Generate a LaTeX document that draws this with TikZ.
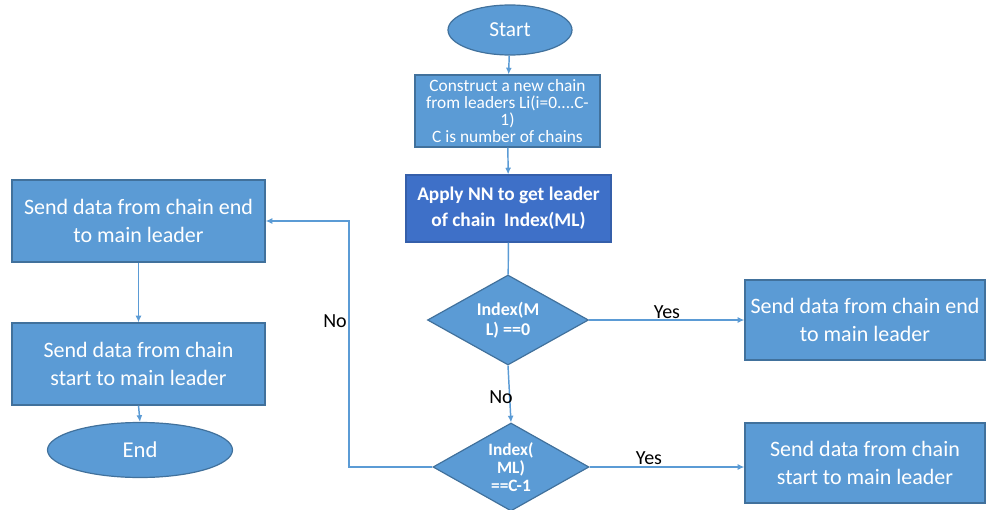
\documentclass[tikz,border=0pt]{standalone}
\usepackage{fontspec}
\setmainfont{Carlito}
\usetikzlibrary{shapes.geometric,arrows.meta}
\definecolor{boxfill}{RGB}{91,155,213}
\definecolor{boxline}{RGB}{65,113,156}
\definecolor{darkfill}{RGB}{62,112,200}
\definecolor{flow}{RGB}{91,155,213}
\tikzset{
  base/.style={draw=boxline, line width=0.9pt, fill=boxfill, text=white, align=center, inner sep=0pt},
  procbox/.style={base, rectangle},
  bigtext/.style={font=\fontsize{16.5}{21}\selectfont},
  termbox/.style={base, ellipse},
  decbox/.style={base, diamond, shape aspect=2},
  arr/.style={draw=flow, line width=1.1pt, -{Latex[length=5pt,width=4.5pt]}},
  ln/.style={draw=flow, line width=1.1pt},
  lbl/.style={text=black, font=\fontsize{15}{18}\selectfont, inner sep=0pt}
}
\begin{document}
\begin{tikzpicture}[x=0.75pt,y=-0.75pt]
\useasboundingbox (0,0) rectangle (986,510);

% main column
\node[termbox, minimum width=93pt, minimum height=37.5pt, font=\fontsize{16}{19}\selectfont] (start) at (510,30) {Start};
\node[procbox, minimum width=138.75pt, minimum height=54pt, font=\fontsize{13}{12.8}\selectfont] (b1) at (507.5,111)
  {Construct a new chain\\from leaders Li(i=0....C-\\1)\\C is number of chains};
\node[procbox, fill=darkfill, draw=darkfill!85!black, minimum width=153.75pt, minimum height=50.25pt, font=\fontsize{14.5}{19.5}\selectfont\bfseries] (b2) at (508.5,208.5)
  {Apply NN to get leader\\of chain\ \ Index(ML)};
\node[decbox, minimum width=120.75pt, minimum height=67.5pt, font=\fontsize{13.5}{15}\selectfont\bfseries] (d1) at (508,320)
  {Index(M\\L) ==0};
\node[decbox, minimum width=117pt, minimum height=66pt, font=\fontsize{13}{13.5}\selectfont\bfseries] (d2) at (511,467) {Index(\\ML)\\==C-1};

% right-hand results
\node[procbox, bigtext, minimum width=180pt, minimum height=60pt] (r1) at (865,320)
  {Send data from chain end\\to main leader};
\node[procbox, bigtext, minimum width=180pt, minimum height=60pt] (r2) at (865,463)
  {Send data from chain\\start to main leader};

% left-hand column
\node[procbox, bigtext, minimum width=189.75pt, minimum height=61.5pt] (l1) at (138.5,221)
  {Send data from chain end\\to main leader};
\node[procbox, bigtext, minimum width=189.75pt, minimum height=61.5pt] (l2) at (138.5,364)
  {Send data from chain\\start to main leader};
\node[termbox, minimum width=138.75pt, minimum height=41.25pt, font=\fontsize{17}{20}\selectfont] (end) at (140,450) {End};

% connectors
\draw[arr] (start) -- (b1);
\draw[arr] (b1) -- (b2);
\draw[ln] (b2) -- (d1);
\draw[arr] (d1.east) -- (r1.west);
\draw[arr] (d1.south) -- (d2.north);
\draw[arr] (d2.east) -- (d2.east -| r2.west);
\coordinate (loop) at (349,221);
\draw[arr] (d2.west) -| (loop) -- (l1.east);
\draw[arr] (l1) -- (l2);
\draw[arr] (l2.south) -- (end.north);

% branch labels
\node[lbl] (yes1) at (667,312) {Yes};
\node[lbl] (yes2) at (649,458) {Yes};
\node[lbl] (no1) at (501,397) {No};
\node[lbl] (no2) at (335,321) {No};
\end{tikzpicture}
\end{document}
